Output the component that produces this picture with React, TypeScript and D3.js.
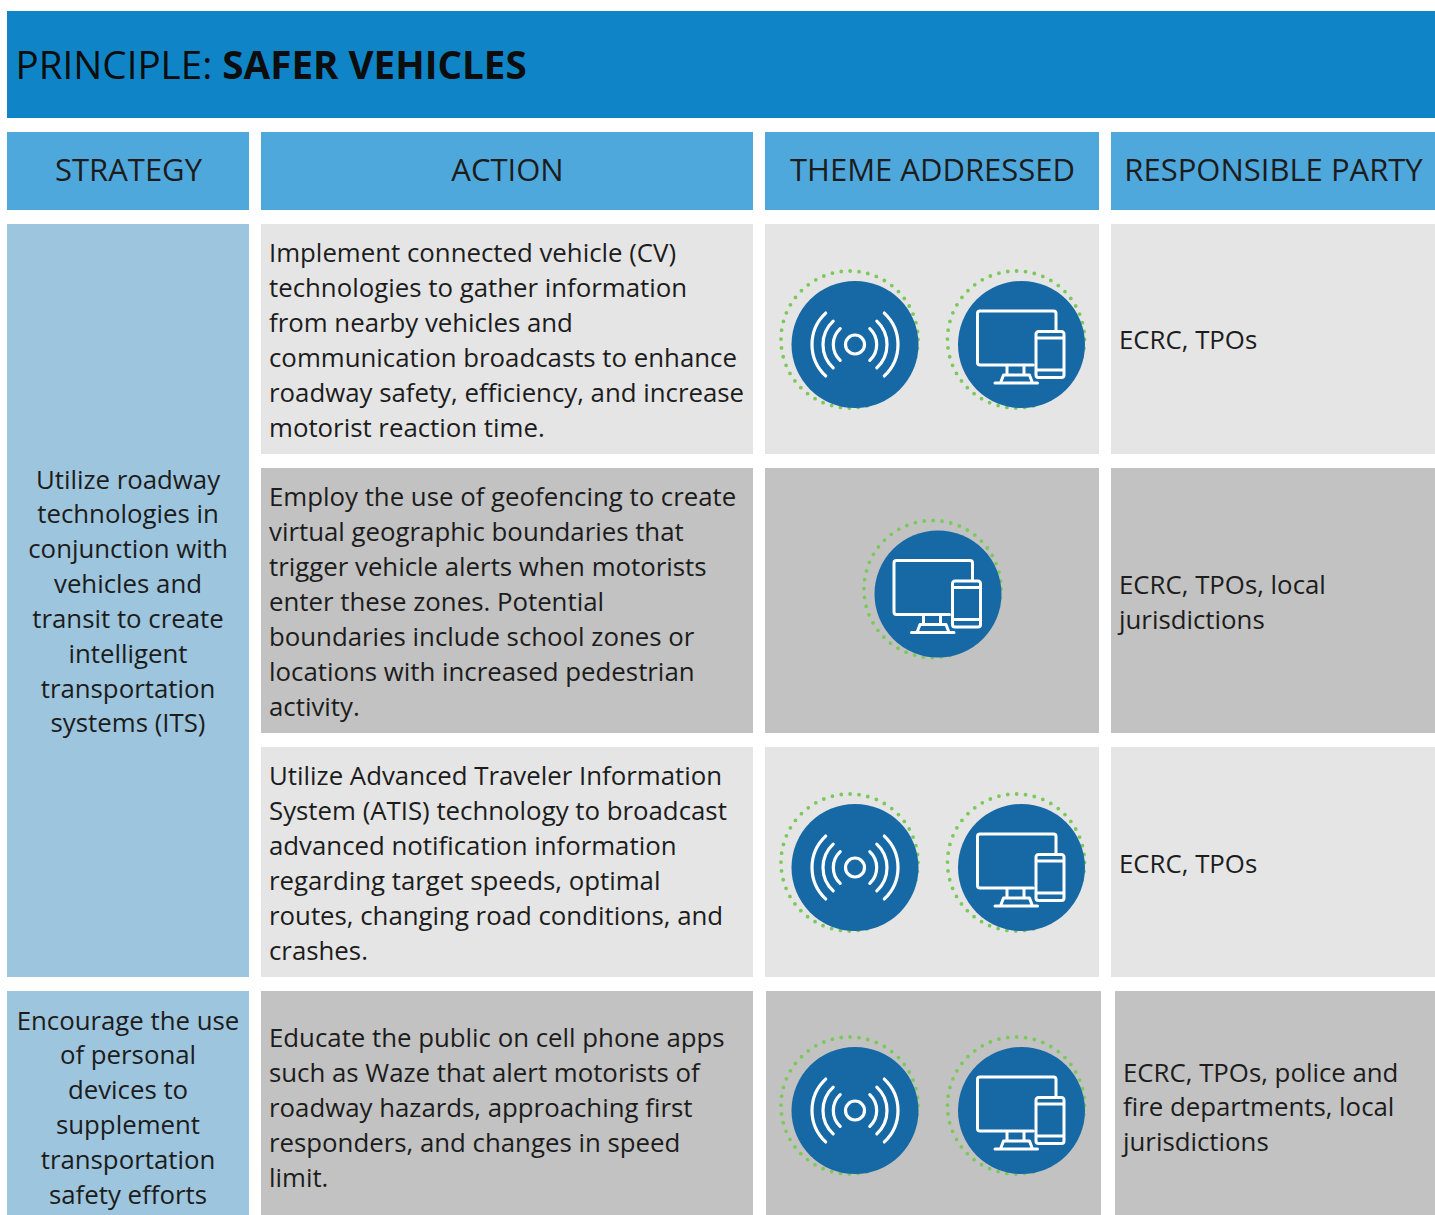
import React from 'react';
import * as d3 from 'd3';

const W = 1435;
const H = 1215;

const titleLight = 'PRINCIPLE: ';
const titleBold = 'SAFER VEHICLES';
const headers = ['STRATEGY', 'ACTION', 'THEME ADDRESSED', 'RESPONSIBLE PARTY'];

const strategyOne = [
  'Utilize roadway',
  'technologies in',
  'conjunction with',
  'vehicles and',
  'transit to create',
  'intelligent',
  'transportation',
  'systems (ITS)'
];
const strategyTwo = [
  'Encourage the use',
  'of personal',
  'devices to',
  'supplement',
  'transportation',
  'safety efforts'
];

const actionOne = [
  'Implement connected vehicle (CV)',
  'technologies to gather information',
  'from nearby vehicles and',
  'communication broadcasts to enhance',
  'roadway safety, efficiency, and increase',
  'motorist reaction time.'
];
const actionTwo = [
  'Employ the use of geofencing to create',
  'virtual geographic boundaries that',
  'trigger vehicle alerts when motorists',
  'enter these zones. Potential',
  'boundaries include school zones or',
  'locations with increased pedestrian',
  'activity.'
];
const actionThree = [
  'Utilize Advanced Traveler Information',
  'System (ATIS) technology to broadcast',
  'advanced notification information',
  'regarding target speeds, optimal',
  'routes, changing road conditions, and',
  'crashes.'
];
const actionFour = [
  'Educate the public on cell phone apps',
  'such as Waze that alert motorists of',
  'roadway hazards, approaching first',
  'responders, and changes in speed',
  'limit.'
];

const partyOne = ['ECRC, TPOs'];
const partyTwo = ['ECRC, TPOs, local', 'jurisdictions'];
const partyThree = ['ECRC, TPOs'];
const partyFour = ['ECRC, TPOs, police and', 'fire departments, local', 'jurisdictions'];

const themesOne = ['signal', 'device'];
const themesTwo = ['device'];
const themesThree = ['signal', 'device'];
const themesFour = ['signal', 'device'];

const FONT = '"Open Sans", sans-serif';
const INK = '#1c1c1c';
const BLUE_TITLE = '#0f85c7';
const BLUE_HEAD = '#4ea8dc';
const BLUE_SIDE = '#9dc5dd';
const LIGHT = '#e5e5e5';
const DARK = '#c2c2c2';
const ICON = '#1769a6';
const DOTS = '#7ac95a';

const LINE = 34.85;
const lineY = (first: number) => d3.scaleLinear().domain([0, 1]).range([first, first + LINE]);

const colX = d3.scaleOrdinal<number, number>().domain([0, 1, 2, 3]).range([7, 261, 765, 1111]);
const colW = d3.scaleOrdinal<number, number>().domain([0, 1, 2, 3]).range([242, 492, 334, 324]);

const rows = [
  { y: 224, h: 230, fill: LIGHT, action: actionOne, first: 262.4, party: partyOne, partyFirst: 349, themes: themesOne, iconY: 344.5, iconX: [855, 1021.5] },
  { y: 468, h: 265, fill: DARK, action: actionTwo, first: 506.4, party: partyTwo, partyFirst: 593.7, themes: themesTwo, iconY: 594, iconX: [938] },
  { y: 747, h: 230, fill: LIGHT, action: actionThree, first: 785.4, party: partyThree, partyFirst: 873, themes: themesThree, iconY: 867.5, iconX: [855, 1021.5] },
  { y: 991, h: 224, fill: DARK, action: actionFour, first: 1047.4, party: partyFour, partyFirst: 1081.6, themes: themesFour, iconY: 1110.5, iconX: [855, 1021.5] }
];

function arcPath(radius: number, mid: number, spread: number) {
  const p = d3.path();
  p.arc(0, 0, radius, mid - spread, mid + spread);
  return p.toString();
}

const signalArcs = [21.7, 32, 43].flatMap(r => [
  arcPath(r, 0, (47 * Math.PI) / 180),
  arcPath(r, Math.PI, (47 * Math.PI) / 180)
]);

function devicePath() {
  const p = d3.path();
  // monitor, open where the phone sits
  p.moveTo(34.5, -13.5);
  p.lineTo(34.5, -31);
  p.arcTo(34.5, -33.5, 32, -33.5, 2.5);
  p.lineTo(-41.5, -33.5);
  p.arcTo(-44, -33.5, -44, -31, 2.5);
  p.lineTo(-44, 18);
  p.arcTo(-44, 20.5, -41.5, 20.5, 2.5);
  p.lineTo(11.5, 20.5);
  // stand
  p.moveTo(-14.5, 20.5);
  p.lineTo(-14.5, 30.5);
  p.moveTo(2.5, 20.5);
  p.lineTo(2.5, 30.5);
  p.moveTo(-26.5, 38.5);
  p.lineTo(16, 38.5);
  p.moveTo(-21, 38.5);
  p.lineTo(-18, 30.5);
  p.lineTo(8, 30.5);
  p.lineTo(11, 38.5);
  // phone
  p.moveTo(17, -13);
  p.lineTo(40, -13);
  p.arcTo(42.5, -13, 42.5, -10.5, 2.5);
  p.lineTo(42.5, 30.5);
  p.arcTo(42.5, 33, 40, 33, 2.5);
  p.lineTo(17, 33);
  p.arcTo(14.5, 33, 14.5, 30.5, 2.5);
  p.lineTo(14.5, -10.5);
  p.arcTo(14.5, -13, 17, -13, 2.5);
  p.moveTo(14.5, -6.5);
  p.lineTo(42.5, -6.5);
  p.moveTo(14.5, 25.5);
  p.lineTo(42.5, 25.5);
  return p.toString();
}

function ThemeIcon({ kind, x, y }: { kind: string; x: number; y: number }) {
  return (
    <g transform={`translate(${x},${y})`}>
      <circle
        cx={-5.5}
        cy={-5}
        r={68.5}
        fill="none"
        stroke={DOTS}
        strokeWidth={3.8}
        strokeLinecap="round"
        strokeDasharray="0 8.97"
      />
      <circle r={63.5} fill={ICON} />
      {kind === 'signal' ? (
        <g fill="none" stroke="#fff" strokeWidth={3.2} strokeLinecap="round">
          <circle r={9.5} />
          {signalArcs.map((d, i) => (
            <path key={i} d={d} />
          ))}
        </g>
      ) : (
        <path d={devicePath()} fill="none" stroke="#fff" strokeWidth={3} strokeLinecap="round" strokeLinejoin="round" />
      )}
    </g>
  );
}

function Lines({ lines, x, first, anchor = 'start' }: { lines: string[]; x: number; first: number; anchor?: string }) {
  const y = lineY(first);
  return (
    <text fontSize={25.8} fill={INK} textAnchor={anchor}>
      {lines.map((l, i) => (
        <tspan key={i} x={x} y={y(i)}>
          {l}
        </tspan>
      ))}
    </text>
  );
}

export default function App() {
  return (
    <svg
      width={W}
      height={H}
      viewBox={`0 0 ${W} ${H}`}
      fontFamily={FONT}
      style={{ position: 'absolute', left: 0, top: 0, display: 'block' }}
    >
      <rect width={W} height={H} fill="#fff" />
      <rect x={7} y={11} width={W - 7} height={107} fill={BLUE_TITLE} />
      <text x={15.5} y={79} fontSize={38.6} fill="#0d0d0d">
        <tspan>{titleLight}</tspan>
        <tspan fontWeight={700}>{titleBold}</tspan>
      </text>

      {headers.map((h, i) => (
        <g key={h}>
          <rect x={colX(i)} y={132} width={colW(i)} height={78} fill={BLUE_HEAD} />
          <text x={colX(i) + colW(i) / 2 + 0.5} y={181} fontSize={31} fill={INK} textAnchor="middle">
            {h}
          </text>
        </g>
      ))}

      <rect x={colX(0)} y={224} width={colW(0)} height={753} fill={BLUE_SIDE} />
      <rect x={colX(0)} y={991} width={colW(0)} height={224} fill={BLUE_SIDE} />
      <Lines lines={strategyOne} x={128} first={488.5} anchor="middle" />
      <Lines lines={strategyTwo} x={128} first={1029.6} anchor="middle" />

      {rows.map((r, i) => {
        const last = i === rows.length - 1;
        const themeX = last ? 766 : colX(2);
        const themeW = last ? 335 : colW(2);
        const partyX = last ? 1115 : colX(3);
        const partyW = last ? 320 : colW(3);
        return (
          <g key={i}>
            <rect x={colX(1)} y={r.y} width={colW(1)} height={r.h} fill={r.fill} />
            <rect x={themeX} y={r.y} width={themeW} height={r.h} fill={r.fill} />
            <rect x={partyX} y={r.y} width={partyW} height={r.h} fill={r.fill} />
            <Lines lines={r.action} x={269} first={r.first} />
            <Lines lines={r.party} x={partyX + 8} first={r.partyFirst} />
            {r.themes.map((t, j) => (
              <ThemeIcon key={t} kind={t} x={r.iconX[j]} y={r.iconY} />
            ))}
          </g>
        );
      })}
    </svg>
  );
}
